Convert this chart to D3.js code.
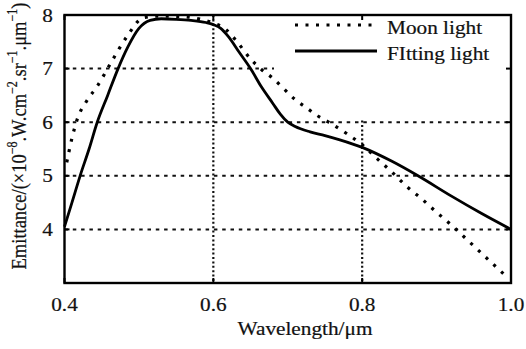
<!DOCTYPE html>
<html>
<head>
<meta charset="utf-8">
<script src="https://cdn.jsdelivr.net/npm/d3@7"></script>
<style>
  html, body { margin: 0; padding: 0; background: #fff; }
  svg { display: block; }
  text { font-family: "Liberation Serif", "Times New Roman", serif; fill: #111; stroke: #111; stroke-width: 0.2px; }
</style>
</head>
<body>
<svg id="chart" width="526" height="349"></svg>
<script>
// Measured spectra: wavelength (µm) and emittance (×10^-8 W·cm^-2·sr^-1·µm^-1)
const moonWavelength = [0.403, 0.410, 0.417, 0.430, 0.444, 0.462, 0.484, 0.506, 0.530, 0.560, 0.580, 0.600,
  0.615, 0.632, 0.650, 0.665, 0.680, 0.695, 0.710, 0.725, 0.740, 0.755, 0.780, 0.800,
  0.820, 0.840, 0.860, 0.880, 0.900, 0.920, 0.940, 0.960, 0.980, 0.997];
const moonValues = [5.25, 5.70, 6.05, 6.40, 6.67, 7.10, 7.60, 7.95, 7.98, 7.97, 7.93, 7.85,
  7.75, 7.50, 7.18, 6.98, 6.82, 6.62, 6.42, 6.27, 6.12, 6.00, 5.78, 5.58,
  5.32, 5.07, 4.80, 4.57, 4.32, 4.08, 3.82, 3.56, 3.30, 3.08];

const fitWavelength = [0.400, 0.410, 0.421, 0.433, 0.444, 0.458, 0.472, 0.485, 0.500, 0.515, 0.530, 0.550,
  0.570, 0.590, 0.600, 0.610, 0.620, 0.635, 0.650, 0.665, 0.680, 0.690, 0.700, 0.710,
  0.730, 0.750, 0.770, 0.800, 0.840, 0.875, 0.920, 0.960, 1.000];
const fitValues = [4.05, 4.50, 5.00, 5.50, 6.00, 6.50, 7.00, 7.40, 7.75, 7.90, 7.93, 7.92,
  7.90, 7.86, 7.82, 7.75, 7.60, 7.30, 7.00, 6.65, 6.35, 6.15, 6.00, 5.92,
  5.82, 5.75, 5.67, 5.53, 5.27, 5.00, 4.62, 4.30, 4.00];

const xTicks = [0.4, 0.6, 0.8, 1.0];
const xTickLabels = ["0.4", "0.6", "0.8", "1.0"];
const yTicks = [4, 5, 6, 7, 8];
const yTickLabels = ["4", "5", "6", "7", "8"];
const seriesNames = ["Moon light", "FItting light"];

const svg = d3.select("#chart");
const plotLeft = 64.5, plotRight = 511, plotTop = 15, plotBottom = 283;

const x = d3.scaleLinear().domain([0.4, 1.0]).range([plotLeft, plotRight]);
const y = d3.scaleLinear().domain([3, 8]).range([plotBottom, plotTop]);

const stretch = 1.15; // glyphs are set slightly wide
function wideText(g, tx, ty, str, size, anchor) {
  return g.append("text")
    .attr("transform", `translate(${tx},${ty}) scale(${stretch},1)`)
    .attr("text-anchor", anchor)
    .style("font-size", size + "px")
    .text(str);
}

// grid lines
const grid = svg.append("g");
grid.selectAll("line.h").data(yTicks.filter(v => v < 8)).join("line")
  .attr("x1", plotLeft).attr("x2", plotRight)
  .attr("y1", d => y(d)).attr("y2", d => y(d))
  .attr("stroke", "#111").attr("stroke-width", 2)
  .attr("stroke-dasharray", "3.5,4.8");
grid.selectAll("line.v").data(xTicks.filter(v => v > 0.4 && v < 1.0)).join("line")
  .attr("x1", d => x(d)).attr("x2", d => x(d))
  .attr("y1", plotTop).attr("y2", plotBottom)
  .attr("stroke", "#111").attr("stroke-width", 2.2)
  .attr("stroke-dasharray", "2,2.4");

// legend background sits over the grid
svg.append("rect")
  .attr("x", 274).attr("y", plotTop + 1)
  .attr("width", plotRight - 274).attr("height", 119 - plotTop)
  .attr("fill", "#fff");

// curves
const line = d3.line().x(d => x(d[0])).y(d => y(d[1])).curve(d3.curveMonotoneX);
const fitData = fitWavelength.map((w, i) => [w, fitValues[i]]);
const moonData = moonWavelength.map((w, i) => [w, moonValues[i]]);

svg.append("path").datum(fitData)
  .attr("d", line).attr("fill", "none")
  .attr("stroke", "#000").attr("stroke-width", 2.8)
  .attr("stroke-linejoin", "round");
svg.append("path").datum(moonData)
  .attr("d", line).attr("fill", "none")
  .attr("stroke", "#000").attr("stroke-width", 3.2)
  .attr("stroke-dasharray", "3,7.5");

// axes frame
const frame = svg.append("g");
frame.append("rect")
  .attr("x", plotLeft).attr("y", plotTop)
  .attr("width", plotRight - plotLeft).attr("height", plotBottom - plotTop)
  .attr("fill", "none").attr("stroke", "#000").attr("stroke-width", 2.4);

// inward ticks
frame.selectAll("line.yl").data(yTicks).join("line")
  .attr("x1", plotLeft).attr("x2", plotLeft + 5)
  .attr("y1", d => y(d)).attr("y2", d => y(d))
  .attr("stroke", "#000").attr("stroke-width", 2);
frame.selectAll("line.yr").data(yTicks).join("line")
  .attr("x1", plotRight - 5).attr("x2", plotRight)
  .attr("y1", d => y(d)).attr("y2", d => y(d))
  .attr("stroke", "#000").attr("stroke-width", 2);
frame.selectAll("line.xb").data(xTicks).join("line")
  .attr("x1", d => x(d)).attr("x2", d => x(d))
  .attr("y1", plotBottom - 5).attr("y2", plotBottom)
  .attr("stroke", "#000").attr("stroke-width", 2);
frame.selectAll("line.xt").data(xTicks).join("line")
  .attr("x1", d => x(d)).attr("x2", d => x(d))
  .attr("y1", plotTop).attr("y2", plotTop + 5)
  .attr("stroke", "#000").attr("stroke-width", 2);

// tick labels
const labels = svg.append("g");
yTicks.forEach((v, i) => wideText(labels, 53, y(v) + 6.5, yTickLabels[i], 18.5, "end"));
xTicks.forEach((v, i) => wideText(labels, x(v), 310.5, xTickLabels[i], 18.5, "middle"));

// axis titles
wideText(labels, 305, 335, "Wavelength/\u03bcm", 18.5, "middle");

const yt = labels.append("text")
  .attr("transform", `translate(25.5,136) rotate(-90) scale(1,${stretch})`)
  .attr("text-anchor", "middle")
  .style("font-size", "18.5px");
yt.append("tspan").text("Emittance/(\u00d710");
yt.append("tspan").attr("dy", -7).style("font-size", "12px").text("\u22128");
yt.append("tspan").attr("dy", 7).text(".W.cm");
yt.append("tspan").attr("dy", -7).style("font-size", "12px").text("\u22122");
yt.append("tspan").attr("dy", 7).text(".sr");
yt.append("tspan").attr("dy", -7).style("font-size", "12px").text("\u22121");
yt.append("tspan").attr("dy", 7).text(".\u03bcm");
yt.append("tspan").attr("dy", -7).style("font-size", "12px").text("\u22121");
yt.append("tspan").attr("dy", 7).text(")");

// legend
const legend = svg.append("g");
const legendRows = [
  { name: seriesNames[0], y: 25, dash: "3,7.5", width: 3.2 },
  { name: seriesNames[1], y: 51, dash: null, width: 2.8 }
];
legendRows.forEach(r => {
  legend.append("line")
    .attr("x1", 295).attr("x2", 377)
    .attr("y1", r.y).attr("y2", r.y)
    .attr("stroke", "#000").attr("stroke-width", r.width)
    .attr("stroke-dasharray", r.dash);
  wideText(legend, 387, r.y + 9, r.name, 18.5, "start");
});
</script>
</body>
</html>
